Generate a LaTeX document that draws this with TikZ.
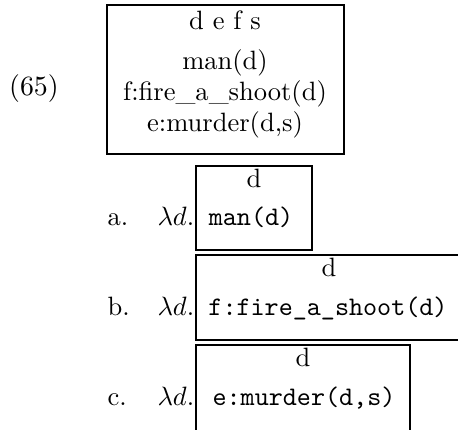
\documentclass[tikz,border=0pt]{standalone}
\begin{document}
\begin{tikzpicture}[x=0.377pt,y=-0.377pt,
  frame/.style={draw,line width=0.9pt},
  txt/.style={anchor=base,inner sep=0pt,font=\fontsize{10}{12}\selectfont},
  code/.style={anchor=base,inner sep=0pt,font=\fontsize{10.1}{12}\selectfont\ttfamily},
  lbl/.style={anchor=base west,inner sep=0pt,font=\fontsize{10}{12}\selectfont}]
\clip (0,0) rectangle (458,429);

% example number
\node[txt,font=\fontsize{10.5}{12}\selectfont] (num) at (34,95) {(65)};

% main DRS
\draw[frame] (107,5) rectangle (344,154);
\node[txt] (univ) at (225,29) {d e f s};
\node[txt] (c1) at (225,69) {man(d)};
\node[txt] (c2) at (225,100) {f:fire\_a\_shoot(d)};
\node[txt] (c3) at (225,131) {e:murder(d,s)};

% (a)
\node[lbl] (la) at (107,225) {a.};
\node[lbl] (lama) at (157,225) {$\lambda d.$};
\draw[frame] (196,166) rectangle (312,250);
\node[txt] (da) at (254,187) {d};
\node[code] (ca) at (251,225) {man(d)};

% (b)
\node[lbl] (lb) at (107,315) {b.};
\node[lbl] (lamb) at (157,315) {$\lambda d.$};
\draw[frame] (196,255) rectangle (461,340);
\node[txt] (db) at (329,276) {d};
\node[code] (cb) at (328,315) {f:fire\_a\_shoot(d)};

% (c)
\node[lbl] (lc) at (107,405) {c.};
\node[lbl] (lamc) at (157,405) {$\lambda d.$};
\draw[frame] (196,345) rectangle (410,445);
\node[txt] (dc) at (303,366) {d};
\node[code] (cc) at (304,405) {e:murder(d,s)};
\end{tikzpicture}
\end{document}
